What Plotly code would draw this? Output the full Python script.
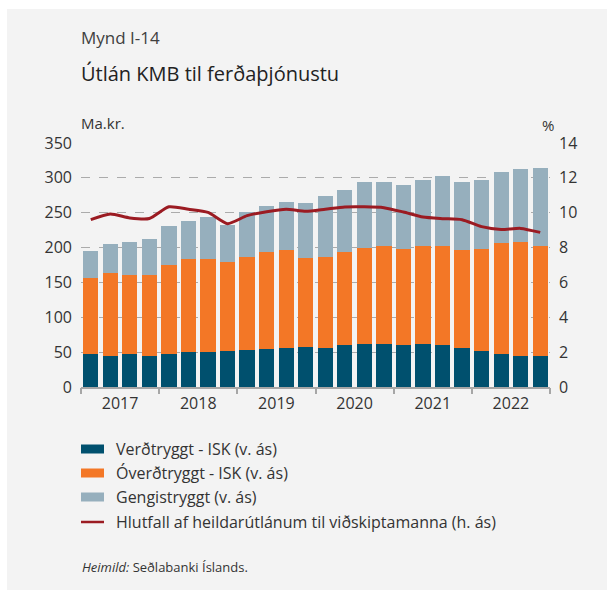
import plotly.graph_objects as go

# ---- Data ----
quarters = [f"{y}K{q}" for y in range(2017, 2023) for q in range(1, 5)]
years = ["2017", "2018", "2019", "2020", "2021", "2022"]
verdtryggt = [47, 44, 47, 44, 47, 50, 50, 51, 53, 54, 56, 57, 56, 60, 61, 61, 60, 61, 60, 56, 51, 48, 45, 45]
overdtryggt = [110, 119, 113, 116, 127.5, 133, 133, 129, 133, 139, 140, 127.5, 130, 133, 138, 140.7, 137.4, 140.7, 141.7, 140, 146.4, 158, 162.5, 156.7]
gengistryggt = [37.6, 41.6, 47.5, 53, 55.9, 54.6, 60.3, 53, 64.5, 66, 70, 78.9, 87.4, 89, 94.6, 91.8, 91.8, 94.7, 100.4, 97.5, 99, 101.8, 104.6, 111.9]
hlutfall = [9.6, 9.92, 9.7, 9.67, 10.34, 10.2, 10.02, 9.37, 9.83, 10.06, 10.2, 10.08, 10.2, 10.33, 10.34, 10.29, 10.04, 9.75, 9.66, 9.6, 9.2, 9.04, 9.1, 8.87]

names = ["Verðtryggt - ISK (v. ás)", "Óverðtryggt - ISK (v. ás)", "Gengistryggt (v. ás)",
         "Hlutfall af heildarútlánum til viðskiptamanna (h. ás)"]
colors = ["#00506E", "#F37726", "#96AFBD", "#9B1B22"]

FONT = "Open Sans"
TXT = "#333333"
BG = "#F3F3F3"

x = list(range(len(quarters)))

fig = go.Figure()
for vals, nm, col in zip([verdtryggt, overdtryggt, gengistryggt], names[:3], colors[:3]):
    fig.add_trace(go.Bar(x=x, y=vals, name=nm, marker=dict(color=col, line=dict(width=0)),
                         width=0.78, customdata=quarters, showlegend=False))
fig.add_trace(go.Scatter(x=x, y=hlutfall, name=names[3], yaxis="y2", mode="lines",
                         line=dict(color=colors[3], width=3, shape="spline", smoothing=0.6),
                         showlegend=False))
# invisible trace to carry boundary tick marks on a secondary x-axis
fig.add_trace(go.Scatter(x=[-0.5, 23.5], y=[None, None], xaxis="x2", showlegend=False,
                         hoverinfo="skip"))

W, H = 614, 590
L, R, T, B = 81, 64, 143, 203
pw, ph = W - L - R, H - T - B

def px(xp):
    return (xp - L) / pw

def py(yp):
    return (H - B - yp) / ph

year_centers = [1.5 + 4 * i for i in range(len(years))]
bounds = [-0.5 + 4 * i for i in range(len(years) + 1)]

fig.update_layout(
    width=W, height=H,
    margin=dict(l=L, r=R, t=T, b=B, pad=0),
    paper_bgcolor=BG, plot_bgcolor=BG,
    font=dict(family=FONT, color=TXT, size=15),
    barmode="stack", bargap=0.2,
    xaxis=dict(range=[-0.5, 23.5], tickvals=year_centers, ticktext=years, ticks="",
               showgrid=False, zeroline=False, showline=True, linecolor="#A6A6A6", linewidth=1.5,
               tickfont=dict(size=16, color=TXT), ticklabelstandoff=1),
    xaxis2=dict(range=[-0.5, 23.5], overlaying="x", tickvals=bounds, ticktext=[""] * len(bounds),
                ticks="outside", ticklen=6, tickwidth=1.5, tickcolor="#A6A6A6",
                showgrid=False, zeroline=False, showline=False, side="bottom", anchor="y"),
    yaxis=dict(range=[0, 350], tickvals=list(range(0, 351, 50)), showgrid=True,
               gridcolor="#ABABAB", griddash="dash", gridwidth=1, zeroline=False,
               ticks="", tickfont=dict(size=16, color=TXT), ticklabelstandoff=8),
    yaxis2=dict(range=[0, 14], tickvals=list(range(0, 15, 2)), overlaying="y", side="right",
                showgrid=False, zeroline=False, ticks="", tickfont=dict(size=16, color=TXT),
                ticklabelstandoff=8),
)

# white outer frame (left, top, right) around the grey panel
shapes = [
    dict(type="rect", xref="paper", yref="paper", x0=px(-5), x1=px(7), y0=py(600), y1=py(-5),
         fillcolor="white", line=dict(width=0), layer="below"),
    dict(type="rect", xref="paper", yref="paper", x0=px(-5), x1=px(620), y0=py(9), y1=py(-5),
         fillcolor="white", line=dict(width=0), layer="below"),
    dict(type="rect", xref="paper", yref="paper", x0=px(607), x1=px(620), y0=py(600), y1=py(-5),
         fillcolor="white", line=dict(width=0), layer="below"),
]
annotations = [
    dict(text="Mynd I-14", x=px(79), y=py(37), xanchor="left", yanchor="middle",
         font=dict(size=17, color="#404040")),
    dict(text="Útlán KMB til ferðaþjónustu", x=px(79), y=py(73), xanchor="left", yanchor="middle",
         font=dict(size=20, color="#222222")),
    dict(text="Ma.kr.", x=px(79), y=py(123), xanchor="left", yanchor="middle", font=dict(size=15)),
    dict(text="%", x=px(548), y=py(125), xanchor="center", yanchor="middle", font=dict(size=15)),
    dict(text="<i>Heimild:</i> Seðlabanki Íslands.", x=px(80), y=py(567), xanchor="left",
         yanchor="middle", font=dict(size=13, color="#333333")),
]
legend_y = [449, 473, 497, 522]
for i, (nm, col) in enumerate(zip(names, colors)):
    yc = legend_y[i]
    if i < 3:
        shapes.append(dict(type="rect", xref="paper", yref="paper", x0=px(81), x1=px(104),
                           y0=py(yc + 4.5), y1=py(yc - 4.5), fillcolor=col, line=dict(width=0)))
    else:
        shapes.append(dict(type="line", xref="paper", yref="paper", x0=px(81), x1=px(104),
                           y0=py(yc), y1=py(yc), line=dict(color=col, width=2.5)))
    annotations.append(dict(text=nm, x=px(114), y=py(yc), xanchor="left", yanchor="middle",
                            font=dict(size=16, color=TXT)))

for a in annotations:
    a.update(xref="paper", yref="paper", showarrow=False)
fig.update_layout(shapes=shapes, annotations=annotations)

fig.write_html("out.html", config={"displayModeBar": False},
               post_script="document.body.style.margin='0';")
